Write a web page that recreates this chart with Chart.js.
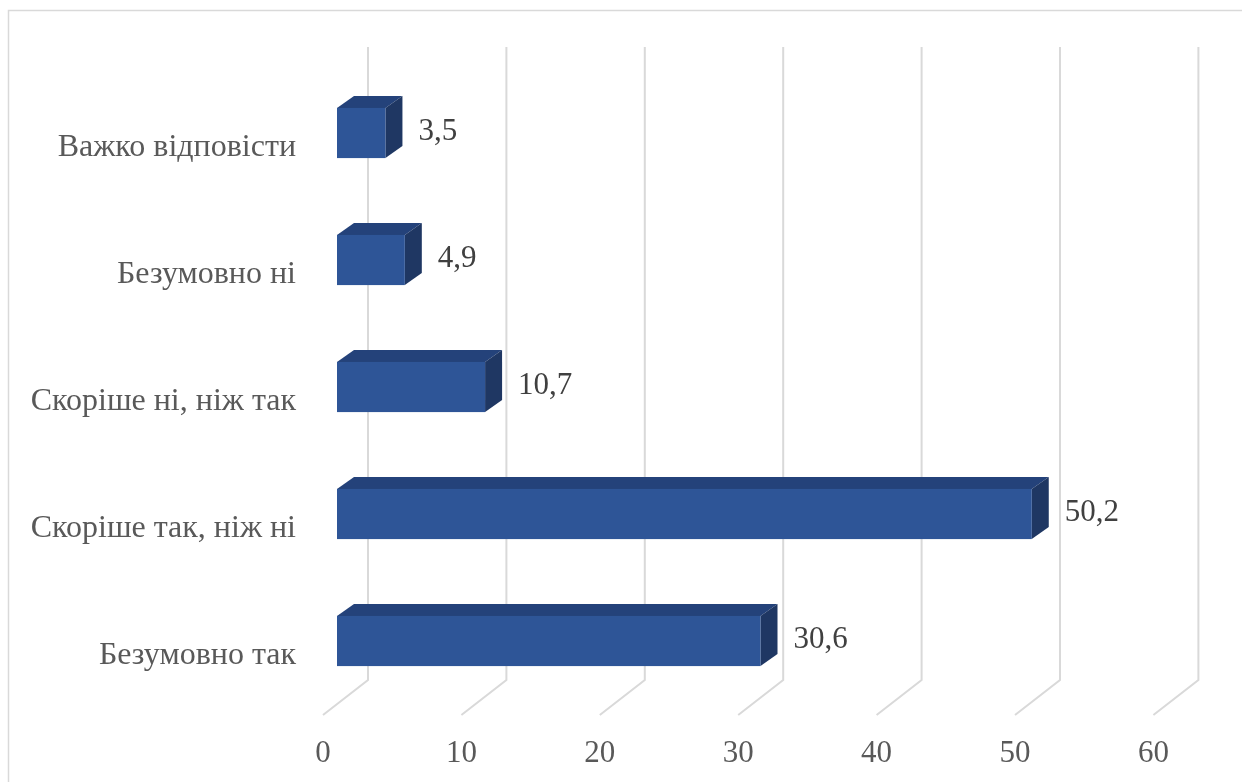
<!DOCTYPE html>
<html>
<head>
<meta charset="utf-8">
<script src="https://cdn.jsdelivr.net/npm/chart.js@4.4.1/dist/chart.umd.min.js"></script>
<style>
  html, body { margin: 0; padding: 0; background: #ffffff; }
  #wrap { position: relative; width: 1242px; height: 782px; }
</style>
</head>
<body>
<div id="wrap"><canvas id="c"></canvas></div>
<script>
const categories = ['Важко відповісти', 'Безумовно ні', 'Скоріше ні, ніж так', 'Скоріше так, ніж ні', 'Безумовно так'];
const values = [3.5, 4.9, 10.7, 50.2, 30.6];
const axisMin = 0;
const axisMax = 60;
const axisStep = 10;

const FRONT = '#2E5597';
const TOP = '#24427A';
const SIDE = '#1F3763';
const GRID = '#d9d9d9';
const DEPTH_X = 17, DEPTH_Y = 12;

const fmt = v => v.toFixed(1).replace('.', ',');

const frame = {
  id: 'frame',
  beforeDraw(chart) {
    const ctx = chart.ctx;
    ctx.save();
    ctx.strokeStyle = '#d9d9d9';
    ctx.lineWidth = 1.5;
    ctx.beginPath();
    ctx.moveTo(8.5, 800);
    ctx.lineTo(8.5, 10.5);
    ctx.lineTo(1260, 10.5);
    ctx.stroke();
    ctx.restore();
  }
};

const grid3d = {
  id: 'grid3d',
  beforeDatasetsDraw(chart) {
    const ctx = chart.ctx, xs = chart.scales.x, area = chart.chartArea;
    ctx.save();
    ctx.strokeStyle = GRID;
    ctx.lineWidth = 2;
    xs.ticks.forEach(t => {
      const px = xs.getPixelForValue(t.value);
      const bx = px + 31;
      ctx.beginPath();
      ctx.moveTo(bx, area.top - 22.5);
      ctx.lineTo(bx, area.bottom - 24.5);
      ctx.lineTo(px - 14, area.bottom + 10.5);
      ctx.stroke();
    });
    ctx.restore();
  }
};

const bars3d = {
  id: 'bars3d',
  afterDatasetsDraw(chart) {
    const ctx = chart.ctx;
    const meta = chart.getDatasetMeta(0);
    ctx.save();
    meta.data.forEach((bar, i) => {
      const p = bar.getProps(['x', 'y', 'base', 'height'], true);
      const l = Math.min(p.base, p.x), r = Math.max(p.base, p.x);
      const t = p.y - p.height / 2, b = p.y + p.height / 2;
      ctx.fillStyle = TOP;
      ctx.beginPath();
      ctx.moveTo(l, t);
      ctx.lineTo(l + DEPTH_X, t - DEPTH_Y);
      ctx.lineTo(r + DEPTH_X, t - DEPTH_Y);
      ctx.lineTo(r, t);
      ctx.closePath();
      ctx.fill();
      ctx.fillStyle = SIDE;
      ctx.beginPath();
      ctx.moveTo(r, t);
      ctx.lineTo(r + DEPTH_X, t - DEPTH_Y);
      ctx.lineTo(r + DEPTH_X, b - DEPTH_Y);
      ctx.lineTo(r, b);
      ctx.closePath();
      ctx.fill();
      ctx.fillStyle = FRONT;
      ctx.fillRect(l, t, r - l, b - t);
      ctx.fillStyle = '#404040';
      ctx.font = '31px "Liberation Serif", "Times New Roman", serif';
      ctx.textAlign = 'left';
      ctx.textBaseline = 'middle';
      ctx.fillText(fmt(values[i]), r + 33, p.y - 1);
    });
    ctx.restore();
  }
};

new Chart(document.getElementById('c'), {
  type: 'bar',
  data: {
    labels: categories,
    datasets: [{
      data: values,
      backgroundColor: 'rgba(0,0,0,0)',
      borderWidth: 0,
      barPercentage: 0.395,
      categoryPercentage: 1.0
    }]
  },
  options: {
    indexAxis: 'y',
    responsive: true,
    maintainAspectRatio: false,
    animation: false,
    layout: { padding: { top: 69.5, right: 74.6, bottom: 0, left: 0 } },
    plugins: { legend: { display: false }, tooltip: { enabled: false } },
    scales: {
      x: {
        min: axisMin, max: axisMax,
        grid: { display: false },
        border: { display: false },
        ticks: {
          stepSize: axisStep,
          labelOffset: -14,
          padding: 23,
          color: '#595959',
          font: { family: '"Liberation Serif", "Times New Roman", serif', size: 31 },
          maxRotation: 0
        },
        afterFit(scale) { scale.height = 77.5; }
      },
      y: {
        grid: { display: false },
        border: { display: false },
        ticks: {
          labelOffset: 15,
          padding: 33,
          color: '#595959',
          font: { family: '"Liberation Serif", "Times New Roman", serif', size: 32 }
        },
        afterFit(scale) { scale.width = 337; }
      }
    }
  },
  plugins: [frame, grid3d, bars3d]
});
</script>
</body>
</html>
